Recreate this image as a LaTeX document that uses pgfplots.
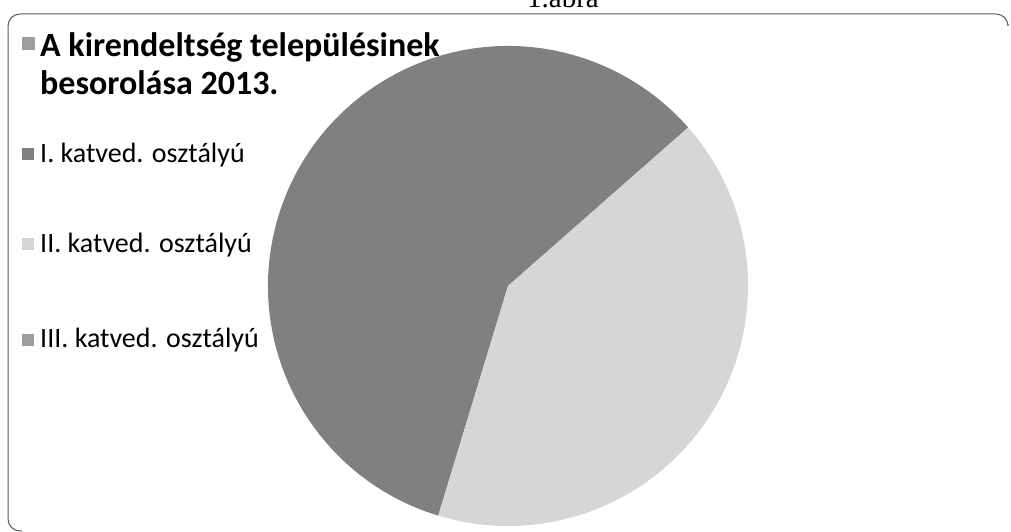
\documentclass[border=0pt]{standalone}
\usepackage{fontspec}
\setmainfont{Carlito}
\newfontfamily\serifont{Liberation Serif}
\usepackage{pgfplots}
\usepackage{pgfplotstable}
\pgfplotsset{compat=1.18}

\definecolor{sliceI}{gray}{0.50}
\definecolor{sliceII}{gray}{0.84}
\definecolor{sliceIII}{gray}{0.62}
\definecolor{titlebox}{gray}{0.62}
\definecolor{frame}{gray}{0.35}

% pie values (I, II, III)
\pgfplotstableread{
label value col
I 20 sliceI
II 14 sliceII
III 0 sliceIII
}\pietable

\begin{document}
\begin{tikzpicture}
\useasboundingbox (0,0) rectangle (1011pt,532pt);
\clip (0,0) rectangle (1011pt,532pt);
\begin{axis}[at={(0,0)},anchor=south west,
  width=1011pt,height=532pt,scale only axis,hide axis,
  xmin=0,xmax=1011,ymin=0,ymax=532,clip=false]

% frame
\draw[frame,line width=1pt,rounded corners=12pt]
  (axis cs:22,1) -- (axis cs:8,1) -- (axis cs:8,518) -- (axis cs:1008,518) -- (axis cs:1008,508);
\node[anchor=base,inner sep=0pt,font=\serifont\fontsize{29}{30}\selectfont] at (axis cs:563,524) {1.ábra};

% pie slices, clockwise from 253.1 deg
\pgfplotstablegetrowsof{\pietable}
\pgfmathtruncatemacro\nrows{\pgfplotsretval-1}
\def\total{0}
\pgfplotsforeachungrouped \i in {0,...,\nrows}{%
  \pgfplotstablegetelem{\i}{value}\of\pietable
  \pgfmathsetmacro\total{\total+\pgfplotsretval}%
}
\def\cum{253.1}
\pgfplotsforeachungrouped \i in {0,...,\nrows}{%
  \pgfplotstablegetelem{\i}{value}\of\pietable \let\v\pgfplotsretval
  \pgfplotstablegetelem{\i}{col}\of\pietable \let\c\pgfplotsretval
  \pgfmathsetmacro\nxt{\cum-\v/\total*360}%
  \ifdim\v pt>0pt
    \edef\temp{\noexpand\fill[\c] (axis cs:508,246) -- (axis cs:{508+240*cos(\cum)},{246+240*sin(\cum)})
      arc[start angle=\cum,end angle=\nxt,radius=240pt] -- cycle;}%
    \temp
  \fi
  \let\cum\nxt
}

% title and legend
\fill[titlebox] (axis cs:22,482) rectangle (axis cs:35,495);
\node[anchor=base west,inner sep=0pt,font=\bfseries\fontsize{34}{38}\selectfont] at (axis cs:40,475) {A kirendeltség településinek};
\node[anchor=base west,inner sep=0pt,font=\bfseries\fontsize{34}{38}\selectfont] at (axis cs:40,437) {besorolása 2013.};

\fill[sliceI] (axis cs:22,372) rectangle (axis cs:34,384);
\node[anchor=base west,inner sep=0pt,font=\fontsize{28}{32}\selectfont] at (axis cs:40,369) {I. katved. osztályú};
\fill[sliceII] (axis cs:22,282) rectangle (axis cs:34,294);
\node[anchor=base west,inner sep=0pt,font=\fontsize{28}{32}\selectfont] at (axis cs:40,279) {II. katved. osztályú};
\fill[sliceIII] (axis cs:22,186) rectangle (axis cs:34,198);
\node[anchor=base west,inner sep=0pt,font=\fontsize{28}{32}\selectfont] at (axis cs:40,184) {III. katved. osztályú};
\end{axis}
\end{tikzpicture}
\end{document}
